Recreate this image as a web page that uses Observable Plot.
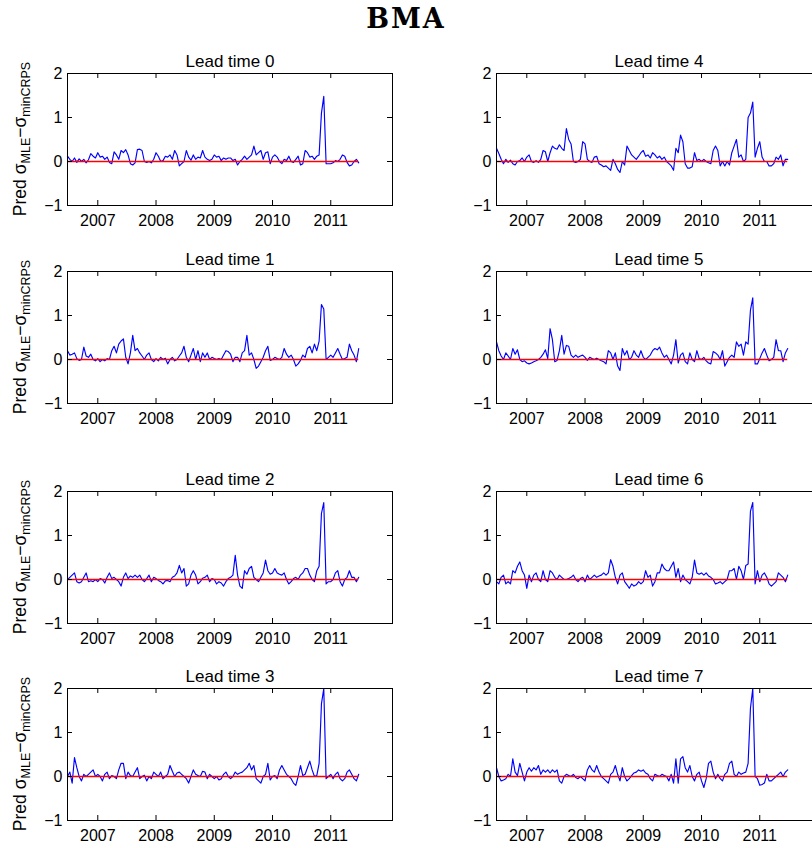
<!DOCTYPE html>
<html>
<head>
<meta charset="utf-8">
<script src="https://cdn.jsdelivr.net/npm/d3@7"></script>
<script src="https://cdn.jsdelivr.net/npm/@observablehq/plot@0.6"></script>
<style>
  html, body { margin: 0; padding: 0; background: #fff; overflow: hidden; }
  #fig { position: relative; width: 812px; height: 848px; overflow: hidden;
         font-family: "Liberation Sans", Arial, sans-serif; color: #000; }
  #title { position: absolute; left: 0; width: 812px; top: 3px; text-align: center;
           font-family: "DejaVu Serif", serif; font-weight: bold; font-size: 27px;
           letter-spacing: 2px; line-height: 32px; }
  .panel { position: absolute; }
  .ylab { position: absolute; width: 240px; height: 20px; line-height: 20px; text-align: center;
          font-size: 17.5px; white-space: nowrap; transform: rotate(-90deg);
          transform-origin: 50% 50%; }
  .ylab sub { font-size: 12.5px; vertical-align: -4px; line-height: 0; }
</style>
</head>
<body>
<div id="fig"><div id="title">BMA</div></div>
<script>
// Time axis: roughly fortnightly samples (decimal years) from mid-2006 to mid-2011
const t0 = 2006.48;
const dt = 0.04;
const years = [2007, 2008, 2009, 2010, 2011];
const yTicks = [-1, 0, 1, 2];
const xDomain = [2006.48, 2012.06];
const yDomain = [-1, 2];

// Predicted sigma difference (MLE minus min-CRPS) per lead time
const lead0 = [
  0.12, 0.05, 0.0, 0.08, -0.02, 0.06, 0.0, 0.05, -0.03, 0.04,
  0.18, 0.12, 0.08, 0.2, 0.1, 0.12, 0.05, 0.1, -0.02, -0.05,
  0.22, 0.15, 0.05, 0.25, 0.2, 0.27, 0.15, -0.05, -0.08, -0.03,
  0.27, 0.28, 0.25, 0.0, -0.02, 0.0, -0.03, 0.05, 0.2, 0.12,
  0.0, 0.02, 0.12, 0.1, 0.15, 0.05, 0.25, 0.15, -0.1, -0.05,
  0.0, 0.25, 0.1, 0.03, 0.15, 0.05, 0.1, 0.08, 0.25, 0.1,
  0.05, 0.02, 0.05, 0.15, 0.1, 0.12, 0.02, 0.08, 0.05, 0.08,
  0.08, 0.02, 0.05, -0.08, 0.0, 0.05, 0.12, 0.05, 0.1, 0.15,
  0.35, 0.15, 0.2, 0.25, 0.05, 0.2, 0.22, -0.05, 0.1, 0.15,
  0.1, 0.0, -0.05, 0.05, 0.02, 0.12, 0.0, -0.02, 0.05, 0.12,
  -0.08, -0.05, 0.25, 0.2, 0.1, 0.12, 0.05, 0.12, 0.15, 1.1,
  1.48, -0.05, -0.05, -0.05, -0.03, 0.02, 0.0, 0.05, 0.15, 0.12,
  -0.02, -0.1, -0.08, 0.0, 0.05, -0.03
];
const lead1 = [
  0.2, 0.1, 0.12, 0.15, 0.02, -0.02, 0.0, 0.28, 0.08, 0.05,
  0.12, 0.0, -0.03, 0.02, -0.05, 0.0, -0.03, 0.02, 0.0, 0.2,
  0.3, 0.15, 0.35, 0.42, 0.47, 0.05, -0.1, 0.15, 0.55, 0.2,
  0.25, 0.15, 0.08, 0.0, 0.1, 0.15, 0.0, -0.05, 0.02, -0.03,
  0.05, 0.0, 0.03, -0.1, 0.0, 0.05, -0.03, 0.0, 0.08, 0.15,
  0.3, 0.05, -0.05, 0.1, 0.25, 0.0, 0.2, -0.05, 0.15, 0.05,
  0.15, 0.0, 0.05, 0.02, 0.0, 0.02, 0.0, 0.1, 0.2, 0.18,
  0.12, -0.05, 0.05, 0.05, -0.05, 0.15, 0.2, 0.55, 0.1, 0.15,
  0.0, -0.2, -0.15, -0.05, 0.05, 0.2, 0.3, -0.02, 0.0, 0.05,
  0.02, 0.0, 0.05, 0.25, 0.12, 0.05, 0.1, 0.0, -0.15, -0.1,
  -0.02, 0.1, 0.05, 0.25, 0.3, 0.15, 0.35, 0.2, 0.42, 1.25,
  1.15, 0.0, 0.05, 0.1, 0.05, 0.15, 0.25, 0.12, 0.0, 0.02,
  0.05, 0.35, 0.2, 0.1, -0.05, 0.25
];
const lead2 = [
  0.0, 0.05, 0.1, 0.15, -0.05, -0.08, -0.05, 0.05, 0.15, -0.05,
  -0.03, -0.05, 0.0, -0.05, 0.02, 0.0, -0.08, 0.05, 0.15, 0.02,
  0.05, 0.0, -0.05, -0.15, 0.05, 0.15, 0.02, 0.08, 0.05, 0.1,
  0.05, 0.1, 0.0, -0.05, 0.02, 0.1, -0.05, 0.05, 0.02, -0.02,
  -0.05, -0.1, -0.03, -0.02, -0.05, 0.05, 0.08, 0.15, 0.32, 0.15,
  0.25, -0.15, -0.1, 0.1, 0.2, 0.1, -0.1, -0.05, 0.03, 0.05,
  0.1, -0.05, 0.02, 0.0, -0.1, -0.05, -0.08, -0.15, -0.05, 0.02,
  0.05, 0.1, 0.55, 0.1, -0.15, -0.2, 0.2, 0.12, 0.25, 0.3,
  0.05, 0.0, -0.05, 0.05, 0.15, 0.44, 0.2, 0.12, 0.15, 0.25,
  0.15, 0.12, 0.1, 0.15, 0.0, -0.1, -0.05, 0.02, 0.05, 0.0,
  0.1, 0.15, 0.25, 0.25, 0.1, 0.0, -0.05, 0.2, 0.3, 1.5,
  1.75, -0.1, -0.05, -0.05, 0.0, 0.15, 0.2, -0.05, -0.15, 0.0,
  0.05, 0.2, 0.05, 0.05, -0.05, 0.05
];
const lead3 = [
  0.0, 0.1, -0.15, 0.43, 0.2, 0.0, -0.1, 0.05, 0.0, 0.05,
  0.1, 0.15, 0.0, 0.05, 0.0, -0.1, 0.05, 0.1, -0.05, 0.02,
  0.0, -0.05, 0.15, 0.3, 0.3, -0.05, 0.1, 0.02, 0.0, 0.1,
  0.2, -0.05, 0.0, 0.03, -0.1, 0.0, -0.05, 0.1, 0.05, 0.0,
  0.1, -0.05, 0.0, 0.05, 0.25, 0.12, 0.0, 0.08, 0.1, 0.05,
  0.0, -0.05, -0.15, 0.0, 0.15, 0.05, 0.02, 0.0, 0.12, 0.1,
  -0.05, 0.05, 0.0, -0.05, 0.0, -0.08, -0.05, 0.05, 0.1, 0.0,
  -0.05, 0.0, 0.1, 0.05, 0.08, 0.1, 0.15, 0.2, 0.3, 0.15,
  0.25, -0.05, -0.1, -0.15, 0.0, 0.05, 0.3, -0.08, 0.0, 0.02,
  -0.05, 0.15, 0.25, 0.15, 0.05, 0.0, -0.05, -0.15, -0.2, 0.0,
  0.25, 0.02, 0.05, 0.2, 0.35, 0.15, 0.0, 0.02, 0.3, 1.65,
  2.0, -0.05, 0.0, 0.05, -0.05, 0.05, 0.1, -0.05, -0.1, -0.05,
  0.1, 0.15, 0.05, -0.05, -0.1, 0.05
];
const lead4 = [
  0.3, 0.18, 0.05, -0.05, 0.05, -0.02, 0.03, -0.05, -0.08, 0.0,
  0.02, 0.08, 0.0, 0.1, 0.15, 0.0, -0.02, 0.02, -0.02, 0.05,
  0.25, 0.22, 0.0, 0.2, 0.35, 0.3, 0.28, 0.38, 0.3, 0.25,
  0.75, 0.5, 0.4, 0.0, -0.02, 0.0, 0.05, 0.45, 0.4, 0.05,
  0.0, -0.02, 0.1, 0.12, -0.05, -0.08, -0.12, -0.1, -0.15, -0.2,
  0.05, -0.05, -0.18, -0.25, 0.0, -0.08, 0.35, 0.25, 0.15, 0.1,
  0.05, 0.12, 0.2, 0.25, 0.12, 0.15, 0.08, 0.2, 0.15, 0.08,
  0.12, 0.05, 0.1, 0.0, -0.05, -0.1, -0.2, 0.3, 0.2, 0.6,
  0.45, -0.05, -0.15, -0.15, -0.12, 0.2, 0.02, 0.05, 0.0, 0.05,
  0.0, -0.03, -0.05, 0.25, 0.35, 0.25, -0.1, 0.0, -0.1, 0.0,
  -0.08, 0.2, 0.35, 0.5, 0.1, 0.15, 0.0, 0.05, 1.0, 1.1,
  1.35, 0.1, 0.3, 0.45, 0.1, 0.0, 0.0, -0.1, -0.1, -0.05,
  0.1, 0.05, 0.15, -0.1, 0.05, 0.05
];
const lead5 = [
  0.4, 0.2, 0.08, 0.0, 0.15, 0.08, 0.0, 0.25, 0.12, 0.22,
  0.0, -0.05, -0.03, -0.08, -0.1, -0.08, -0.05, -0.03, 0.0, 0.05,
  0.12, 0.22, 0.02, 0.7, 0.45, -0.05, -0.02, 0.2, 0.55, 0.12,
  0.32, 0.3, 0.1, 0.05, 0.1, 0.05, 0.08, 0.1, 0.05, -0.02,
  0.05, 0.02, 0.0, 0.03, 0.0, -0.03, -0.05, -0.1, 0.2, 0.15,
  0.0, 0.15, -0.15, -0.25, 0.25, 0.1, 0.2, 0.0, 0.05, 0.2,
  0.1, 0.05, 0.2, 0.05, 0.0, 0.05, 0.1, 0.2, 0.25, 0.22,
  0.28, 0.15, 0.05, 0.1, 0.0, -0.1, 0.1, 0.45, -0.08, 0.1,
  0.15, -0.05, -0.1, 0.15, 0.0, -0.05, 0.2, 0.02, 0.0, 0.05,
  -0.03, -0.08, -0.1, 0.18, 0.15, 0.1, 0.0, 0.2, -0.15, -0.05,
  0.05, 0.1, 0.05, 0.4, 0.3, 0.35, 0.1, 0.4, 0.35, 1.12,
  1.4, -0.1, -0.1, 0.02, 0.15, 0.25, 0.1, -0.03, 0.0, 0.05,
  0.45, 0.2, 0.2, -0.05, 0.15, 0.25
];
const lead6 = [
  -0.05, -0.1, 0.05, 0.1, -0.1, -0.05, -0.1, 0.2, 0.15, 0.3,
  0.4, 0.2, 0.1, -0.2, 0.1, -0.05, 0.1, 0.15, 0.0, -0.05,
  0.2, 0.0, -0.05, 0.2, 0.15, 0.05, 0.0, 0.1, 0.05, 0.0,
  0.0, 0.02, 0.05, 0.1, 0.0, -0.05, 0.02, 0.05, -0.05, 0.1,
  0.0, 0.05, 0.1, 0.05, 0.08, 0.1, 0.15, 0.1, 0.15, 0.45,
  0.3, 0.05, -0.1, 0.1, 0.15, -0.05, -0.12, -0.2, -0.1, -0.15,
  -0.12, -0.05, -0.1, -0.05, 0.2, 0.05, 0.1, -0.15, -0.05, 0.15,
  0.15, 0.35, 0.25, 0.2, 0.2, 0.3, 0.4, 0.05, 0.25, -0.05,
  0.1, 0.0, -0.05, -0.1, 0.05, 0.44, 0.15, 0.12, 0.15, 0.1,
  0.15, 0.08, 0.05, 0.0, -0.1, -0.08, -0.05, -0.1, -0.05, 0.0,
  0.2, 0.2, 0.25, 0.0, 0.3, 0.2, 0.0, 0.32, 0.35, 1.55,
  1.75, -0.1, 0.2, -0.05, 0.1, 0.15, 0.05, -0.1, -0.15, -0.1,
  -0.05, 0.15, 0.1, 0.05, -0.05, 0.1
];
const lead7 = [
  0.2, 0.0, -0.1, -0.08, -0.05, 0.05, 0.0, 0.4, 0.1, 0.02,
  0.3, 0.1, -0.1, 0.1, 0.2, 0.12, 0.2, 0.15, 0.25, 0.05,
  0.15, 0.1, 0.15, 0.08, 0.15, 0.1, 0.15, -0.1, -0.15, 0.0,
  0.05, 0.02, 0.0, 0.05, -0.02, -0.05, 0.0, -0.05, -0.1, 0.15,
  0.25, 0.15, 0.1, 0.25, 0.1, 0.0, -0.05, -0.1, -0.15, 0.05,
  0.1, 0.25, 0.05, -0.1, 0.2, 0.0, -0.1, -0.05, 0.02, 0.08,
  0.1, 0.15, 0.12, 0.15, 0.08, 0.05, -0.05, -0.1, 0.05, 0.02,
  0.0, 0.05, 0.02, 0.0, -0.1, 0.05, -0.15, 0.4, -0.15, 0.4,
  0.45, 0.2, 0.1, 0.25, 0.0, -0.1, 0.05, 0.1, -0.1, -0.25,
  -0.05, 0.3, 0.35, 0.1, -0.05, 0.05, -0.05, -0.1, 0.05, 0.1,
  0.3, 0.35, 0.05, 0.0, 0.1, 0.05, 0.08, 0.1, 0.3, 1.55,
  2.0, 0.0, -0.05, -0.2, -0.18, -0.15, 0.05, -0.1, -0.1, -0.05,
  0.0, 0.05, 0.1, 0.0, 0.1, 0.15
];

const series = [lead0, lead1, lead2, lead3, lead4, lead5, lead6, lead7];

// Panel grid: lead times 0-3 down the left column, 4-7 down the right
const colLeft = [0, 429];
const rowTop = [43, 241, 461, 658];
const margin = {top: 30, right: 8, bottom: 28, left: 67};
const panelW = 400, panelH = 190;
const innerW = panelW - margin.left - margin.right;
const innerH = panelH - margin.top - margin.bottom;
const tickLen = 5;

const fig = document.getElementById("fig");

series.forEach((values, lead) => {
  const col = Math.floor(lead / 4), row = lead % 4;
  const data = values.map((v, i) => ({t: +(t0 + dt * i).toFixed(2), v}));
  const tStart = data[0].t, tEnd = data[data.length - 1].t;

  const chart = Plot.plot({
    width: panelW,
    height: panelH,
    marginTop: margin.top,
    marginRight: margin.right,
    marginBottom: margin.bottom,
    marginLeft: margin.left,
    style: {fontFamily: '"Liberation Sans", Arial, sans-serif', fontSize: "16px",
            color: "#000", background: "transparent", overflow: "visible"},
    x: {type: "linear", domain: xDomain},
    y: {domain: yDomain},
    marks: [
      Plot.line(data, {x: "t", y: "v", stroke: "#0000ff", strokeWidth: 1.15}),
      Plot.ruleY([0], {x1: tStart, x2: tEnd, stroke: "#ff0000", strokeWidth: 1.3}),
      Plot.frame({stroke: "#000", strokeWidth: 1}),
      // inward tick marks on all four edges of the box
      Plot.tickX(years, {x: d => d, insetBottom: innerH - tickLen, stroke: "#000"}),
      Plot.tickX(years, {x: d => d, insetTop: innerH - tickLen, stroke: "#000"}),
      Plot.tickY(yTicks, {y: d => d, insetRight: innerW - tickLen, stroke: "#000"}),
      Plot.tickY(yTicks, {y: d => d, insetLeft: innerW - tickLen, stroke: "#000"}),
      // tick labels
      Plot.axisX(years, {anchor: "bottom", tickSize: 0, tickPadding: 9, label: null,
                         tickFormat: d => String(d)}),
      Plot.axisY(yTicks, {anchor: "left", tickSize: 0, tickPadding: 5, label: null}),
      Plot.text([`Lead time ${lead}`], {frameAnchor: "top", dy: -19, fontSize: 17})
    ]
  });
  chart.classList.add("panel");
  chart.style.left = colLeft[col] + "px";
  chart.style.top = rowTop[row] + "px";
  fig.appendChild(chart);

  if (col === 0) {
    const lab = document.createElement("div");
    lab.className = "ylab";
    lab.innerHTML = "Pred σ<sub>MLE</sub>−σ<sub>minCRPS</sub>";
    const cy = rowTop[row] + margin.top + innerH / 2;
    lab.style.left = (20 - 120) + "px";
    lab.style.top = (cy - 10) + "px";
    fig.appendChild(lab);
  }
});
</script>
</body>
</html>
